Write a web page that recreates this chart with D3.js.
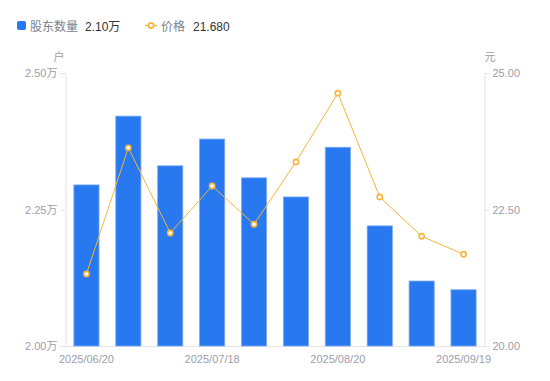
<!DOCTYPE html>
<html><head><meta charset="utf-8">
<script src="https://cdn.jsdelivr.net/npm/d3@7"></script>
<style>body{margin:0;background:#fff;font-family:"Liberation Sans","Noto Sans CJK SC",sans-serif;}</style>
</head><body><svg id="c" width="550" height="381"></svg>
<script>
const dates = ["2025/06/20","2025/06/30","2025/07/10","2025/07/18","2025/07/31","2025/08/10","2025/08/20","2025/08/31","2025/09/10","2025/09/19"];
const holders = [2.295,2.421,2.330,2.379,2.308,2.273,2.364,2.220,2.119,2.103];
const prices = [21.32,23.63,22.07,22.93,22.23,23.37,24.63,22.73,22.01,21.68];
const leftTicks = [2.00,2.25,2.50];
const rightTicks = [20,22.5,25];
const shownLabels = ["2025/06/20","2025/07/18","2025/08/20","2025/09/19"];

const FF = '"Liberation Sans","Noto Sans CJK SC",sans-serif';
const svg = d3.select("#c").style("font-family",FF);
const m = {l:65.5, r:484.5, t:73, b:346};
const x = d3.scaleBand().domain(dates).range([m.l, m.r]).paddingInner(0.4).paddingOuter(0.2);
const yL = d3.scaleLinear().domain([2.0,2.5]).range([m.b, m.t]);
const yR = d3.scaleLinear().domain([20,25]).range([m.b, m.t]);
const gray = "#9b9eac", axisC = "#e3e4e8";

// axes
const ax = svg.append("g").attr("transform",`translate(${m.l},0)`)
  .call(d3.axisLeft(yL).tickValues(leftTicks).tickSize(5).tickPadding(3).tickFormat(d=>d3.format(".2f")(d)+"万"));
const ar = svg.append("g").attr("transform",`translate(${m.r},0)`)
  .call(d3.axisRight(yR).tickValues(rightTicks).tickSize(5).tickPadding(3).tickFormat(d3.format(".2f")));
const ab = svg.append("g").attr("transform",`translate(0,${m.b})`)
  .call(d3.axisBottom(x).tickValues(shownLabels).tickSize(0).tickPadding(9));
[ax,ar,ab].forEach(g=>{
  g.selectAll("path.domain").attr("stroke",axisC);
  g.selectAll(".tick line").attr("stroke",axisC);
  g.selectAll("text").attr("fill",gray).style("font-size","11px").style("font-family",FF);
});
ab.select("path.domain").attr("d",`M${m.l},0.5H${m.r}`);

// unit labels
svg.append("text").attr("x",59).attr("y",61).attr("text-anchor","middle").attr("fill",gray).style("font-size","11px").text("户");
svg.append("text").attr("x",490).attr("y",61).attr("text-anchor","middle").attr("fill",gray).style("font-size","11px").text("元");

// bars
svg.append("g").selectAll("rect").data(holders).join("rect")
  .attr("x",(d,i)=>x(dates[i])).attr("width",x.bandwidth())
  .attr("y",d=>yL(d)).attr("height",d=>m.b-yL(d))
  .attr("fill","#2878f0").attr("stroke","#7aaaf5").attr("stroke-width",0.8);

// line
const line = d3.line().x((d,i)=>x(dates[i])+x.bandwidth()/2).y(d=>yR(d));
svg.append("path").datum(prices).attr("d",line).attr("fill","none").attr("stroke","#f7b539").attr("stroke-width",1);
svg.append("g").selectAll("circle").data(prices).join("circle")
  .attr("cx",(d,i)=>x(dates[i])+x.bandwidth()/2).attr("cy",d=>yR(d)).attr("r",2.6)
  .attr("fill","#fff").attr("stroke","#f7b539").attr("stroke-width",1.6);

// legend
const lg = svg.append("g").style("font-size","12px");
lg.append("rect").attr("x",17).attr("y",21).attr("width",9).attr("height",9).attr("rx",2).attr("fill","#2878f0");
lg.append("text").attr("x",30).attr("y",30.5).attr("fill","#7d808c").text("股东数量");
lg.append("text").attr("x",85).attr("y",30.5).attr("fill","#333").text("2.10万");
lg.append("line").attr("x1",145).attr("x2",157).attr("y1",25.5).attr("y2",25.5).attr("stroke","#f7b539").attr("stroke-width",1.5);
lg.append("circle").attr("cx",151).attr("cy",25.5).attr("r",2.6).attr("fill","#fff").attr("stroke","#f7b539").attr("stroke-width",1.6);
lg.append("text").attr("x",161).attr("y",30.5).attr("fill","#7d808c").text("价格");
lg.append("text").attr("x",193).attr("y",30.5).attr("fill","#333").text("21.680");
</script></body></html>
